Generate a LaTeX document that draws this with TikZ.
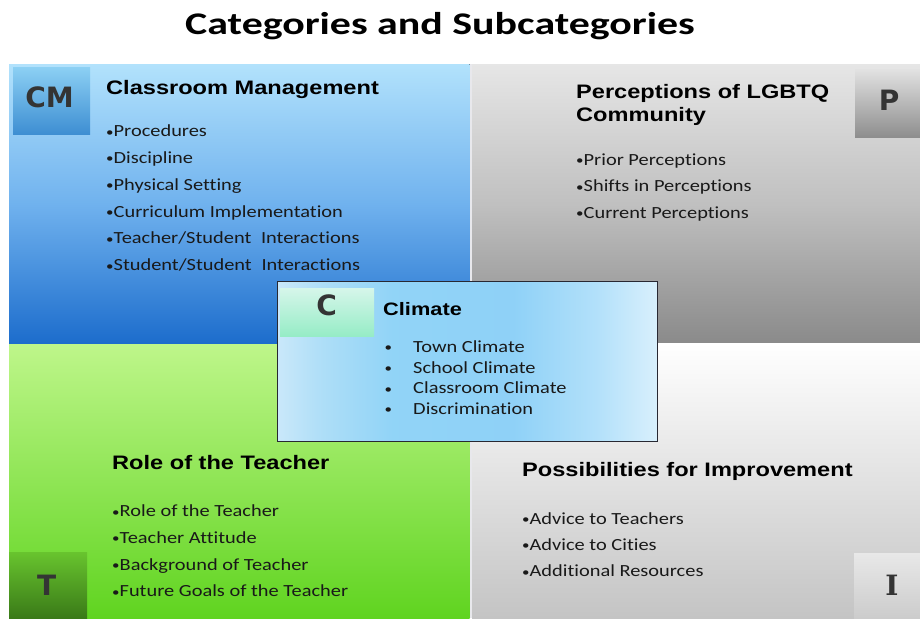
\documentclass[tikz,border=0pt]{standalone}
\usepackage{fontspec}
\setmainfont{Carlito}
\newfontfamily\titlefont[FakeStretch=1.33]{Carlito}
\newfontfamily\headfont[FakeStretch=1.21]{Liberation Sans}
\newfontfamily\bodyfont[FakeStretch=1.2,Ligatures=NoCommon]{Carlito}
\newfontfamily\tagfont{DejaVu Sans}
\newfontfamily\tagserif{DejaVu Serif}
\newcommand{\dotmark}{\raisebox{0.6pt}{\fontsize{12.5}{12.5}\selectfont\textbullet}}

\definecolor{tagtext}{RGB}{52,52,52}
\definecolor{bodytext}{RGB}{25,25,25}
\definecolor{blueTop}{RGB}{178,226,252}
\definecolor{blueMid}{RGB}{112,178,238}
\definecolor{blueBot}{RGB}{28,108,204}
\definecolor{grayTop}{RGB}{230,230,230}
\definecolor{grayMid}{RGB}{192,192,192}
\definecolor{grayBot}{RGB}{138,138,138}
\definecolor{greenTop}{RGB}{190,246,138}
\definecolor{greenBot}{RGB}{96,212,32}
\definecolor{paleBot}{RGB}{196,196,196}
\definecolor{seam}{RGB}{232,232,236}
\definecolor{cmTop}{RGB}{140,208,244}
\definecolor{cmBot}{RGB}{62,142,210}
\definecolor{pTop}{RGB}{226,226,226}
\definecolor{pBot}{RGB}{142,142,142}
\definecolor{tTop}{RGB}{104,196,46}
\definecolor{tBot}{RGB}{58,122,24}
\definecolor{iTop}{RGB}{232,232,232}
\definecolor{iBot}{RGB}{204,204,204}
\definecolor{climEdge}{RGB}{40,40,50}
\definecolor{cTop}{RGB}{214,246,234}
\definecolor{cBot}{RGB}{150,236,198}

% left-to-right fill of the climate box (the path spans 25bp..75bp)
\pgfdeclarehorizontalshading{climshade}{100bp}{%
  rgb(0bp)=(0.79,0.91,0.98);
  rgb(25bp)=(0.79,0.91,0.98);
  rgb(31bp)=(0.68,0.87,0.97);
  rgb(40bp)=(0.57,0.83,0.97);
  rgb(56bp)=(0.56,0.82,0.97);
  rgb(67bp)=(0.70,0.88,0.98);
  rgb(75bp)=(0.85,0.94,0.99);
  rgb(100bp)=(0.85,0.94,0.99)}

\tikzset{
  tag/.style={font=\tagfont\bfseries\fontsize{28}{28}\selectfont, text=tagtext, anchor=base, inner sep=0pt},
  head/.style={font=\headfont\bfseries\fontsize{19.5}{24}\selectfont, anchor=base west, inner sep=0pt},
  item/.style={font=\bodyfont\fontsize{17}{20}\selectfont, text=bodytext, anchor=base west, inner sep=0pt},
  citem/.style={font=\bodyfont\fontsize{17}{20}\selectfont, text=bodytext, anchor=base west, inner sep=0pt},
}

\begin{document}
\begin{tikzpicture}[x=1pt,y=-1pt]
\useasboundingbox[fill=white] (0,0) rectangle (920,618);

% title
\node[font=\titlefont\bfseries\fontsize{31.5}{32}\selectfont, anchor=base, inner sep=0pt] (title) at (440,34.5) {Categories and Subcategories};

% four quadrants (middle colour given last so it is kept)
\fill[top color=blueTop, bottom color=blueBot, middle color=blueMid] (9,64) rectangle (469.5,344);
\fill[seam] (469.5,64) rectangle (472,618);
\fill[top color=grayTop, bottom color=grayBot, middle color=grayMid] (472,64) rectangle (920,343.5);
\fill[top color=greenTop, bottom color=greenBot] (9,344) rectangle (469.5,618);
\fill[top color=white, bottom color=paleBot] (472,343.5) rectangle (920,618);

% corner tag boxes
\fill[top color=cmTop, bottom color=cmBot] (13,67) rectangle (90,134);
\fill[top color=pTop, bottom color=pBot] (855,69) rectangle (920,137);
\fill[top color=tTop, bottom color=tBot] (9,552) rectangle (87,618);
\fill[top color=iTop, bottom color=iBot] (854,553) rectangle (920,618);

\node[tag] (tagCM) at (49.5,107) {CM};
\node[tag] (tagP) at (889,110) {P};
\node[tag] (tagT) at (46.7,595.5) {T};
\node[tag, font=\tagserif\bfseries\fontsize{28}{28}\selectfont] (tagI) at (892,595) {I};

% classroom management
\node[head] (hCM) at (106,94.5) {Classroom Management};
\foreach \t [count=\i] in {Procedures,Discipline,Physical Setting,Curriculum Implementation,Teacher/Student\hspace{.3em} Interactions,Student/Student\hspace{.3em} Interactions}
  \node[item] (cm\i) at (106,{136.7+26.8*(\i-1)}) {\dotmark\t};

% perceptions
\node[head] (hP1) at (576,98.3) {Perceptions of LGBTQ};
\node[head] (hP2) at (576,121.7) {Community};
\foreach \t [count=\i] in {Prior Perceptions,Shifts in Perceptions,Current Perceptions}
  \node[item] (p\i) at (576,{165+26.7*(\i-1)}) {\dotmark\t};

% role of the teacher
\node[head] (hT) at (112,469) {Role of the Teacher};
\foreach \t [count=\i] in {Role of the Teacher,Teacher Attitude,Background of Teacher,Future Goals of the Teacher}
  \node[item] (t\i) at (112,{516.7+26.7*(\i-1)}) {\dotmark\t};

% possibilities for improvement
\node[head] (hI) at (522,476) {Possibilities for Improvement};
\foreach \t [count=\i] in {Advice to Teachers,Advice to Cities,Additional Resources}
  \node[item] (i\i) at (522,{524.3+26.2*(\i-1)}) {\dotmark\t};

% climate box in the centre
\fill[shading=climshade] (277.5,281.5) rectangle (657.5,441.5);
\draw[climEdge, line width=1pt] (277.5,281.5) rectangle (657.5,441.5);
\fill[top color=cTop, bottom color=cBot] (280,288) rectangle (374,336);
\node[tag] (tagC) at (326.7,315.5) {C};
\node[head, font=\headfont\bfseries\fontsize{18}{22}\selectfont] (hC) at (383,315) {Climate};
\foreach \t [count=\i] in {Town Climate,School Climate,Classroom Climate,Discrimination}
  \node[citem] (c\i) at (384.5,{352.3+20.7*(\i-1)}) {\makebox[28.5pt][l]{\dotmark}\t};
\end{tikzpicture}
\end{document}
